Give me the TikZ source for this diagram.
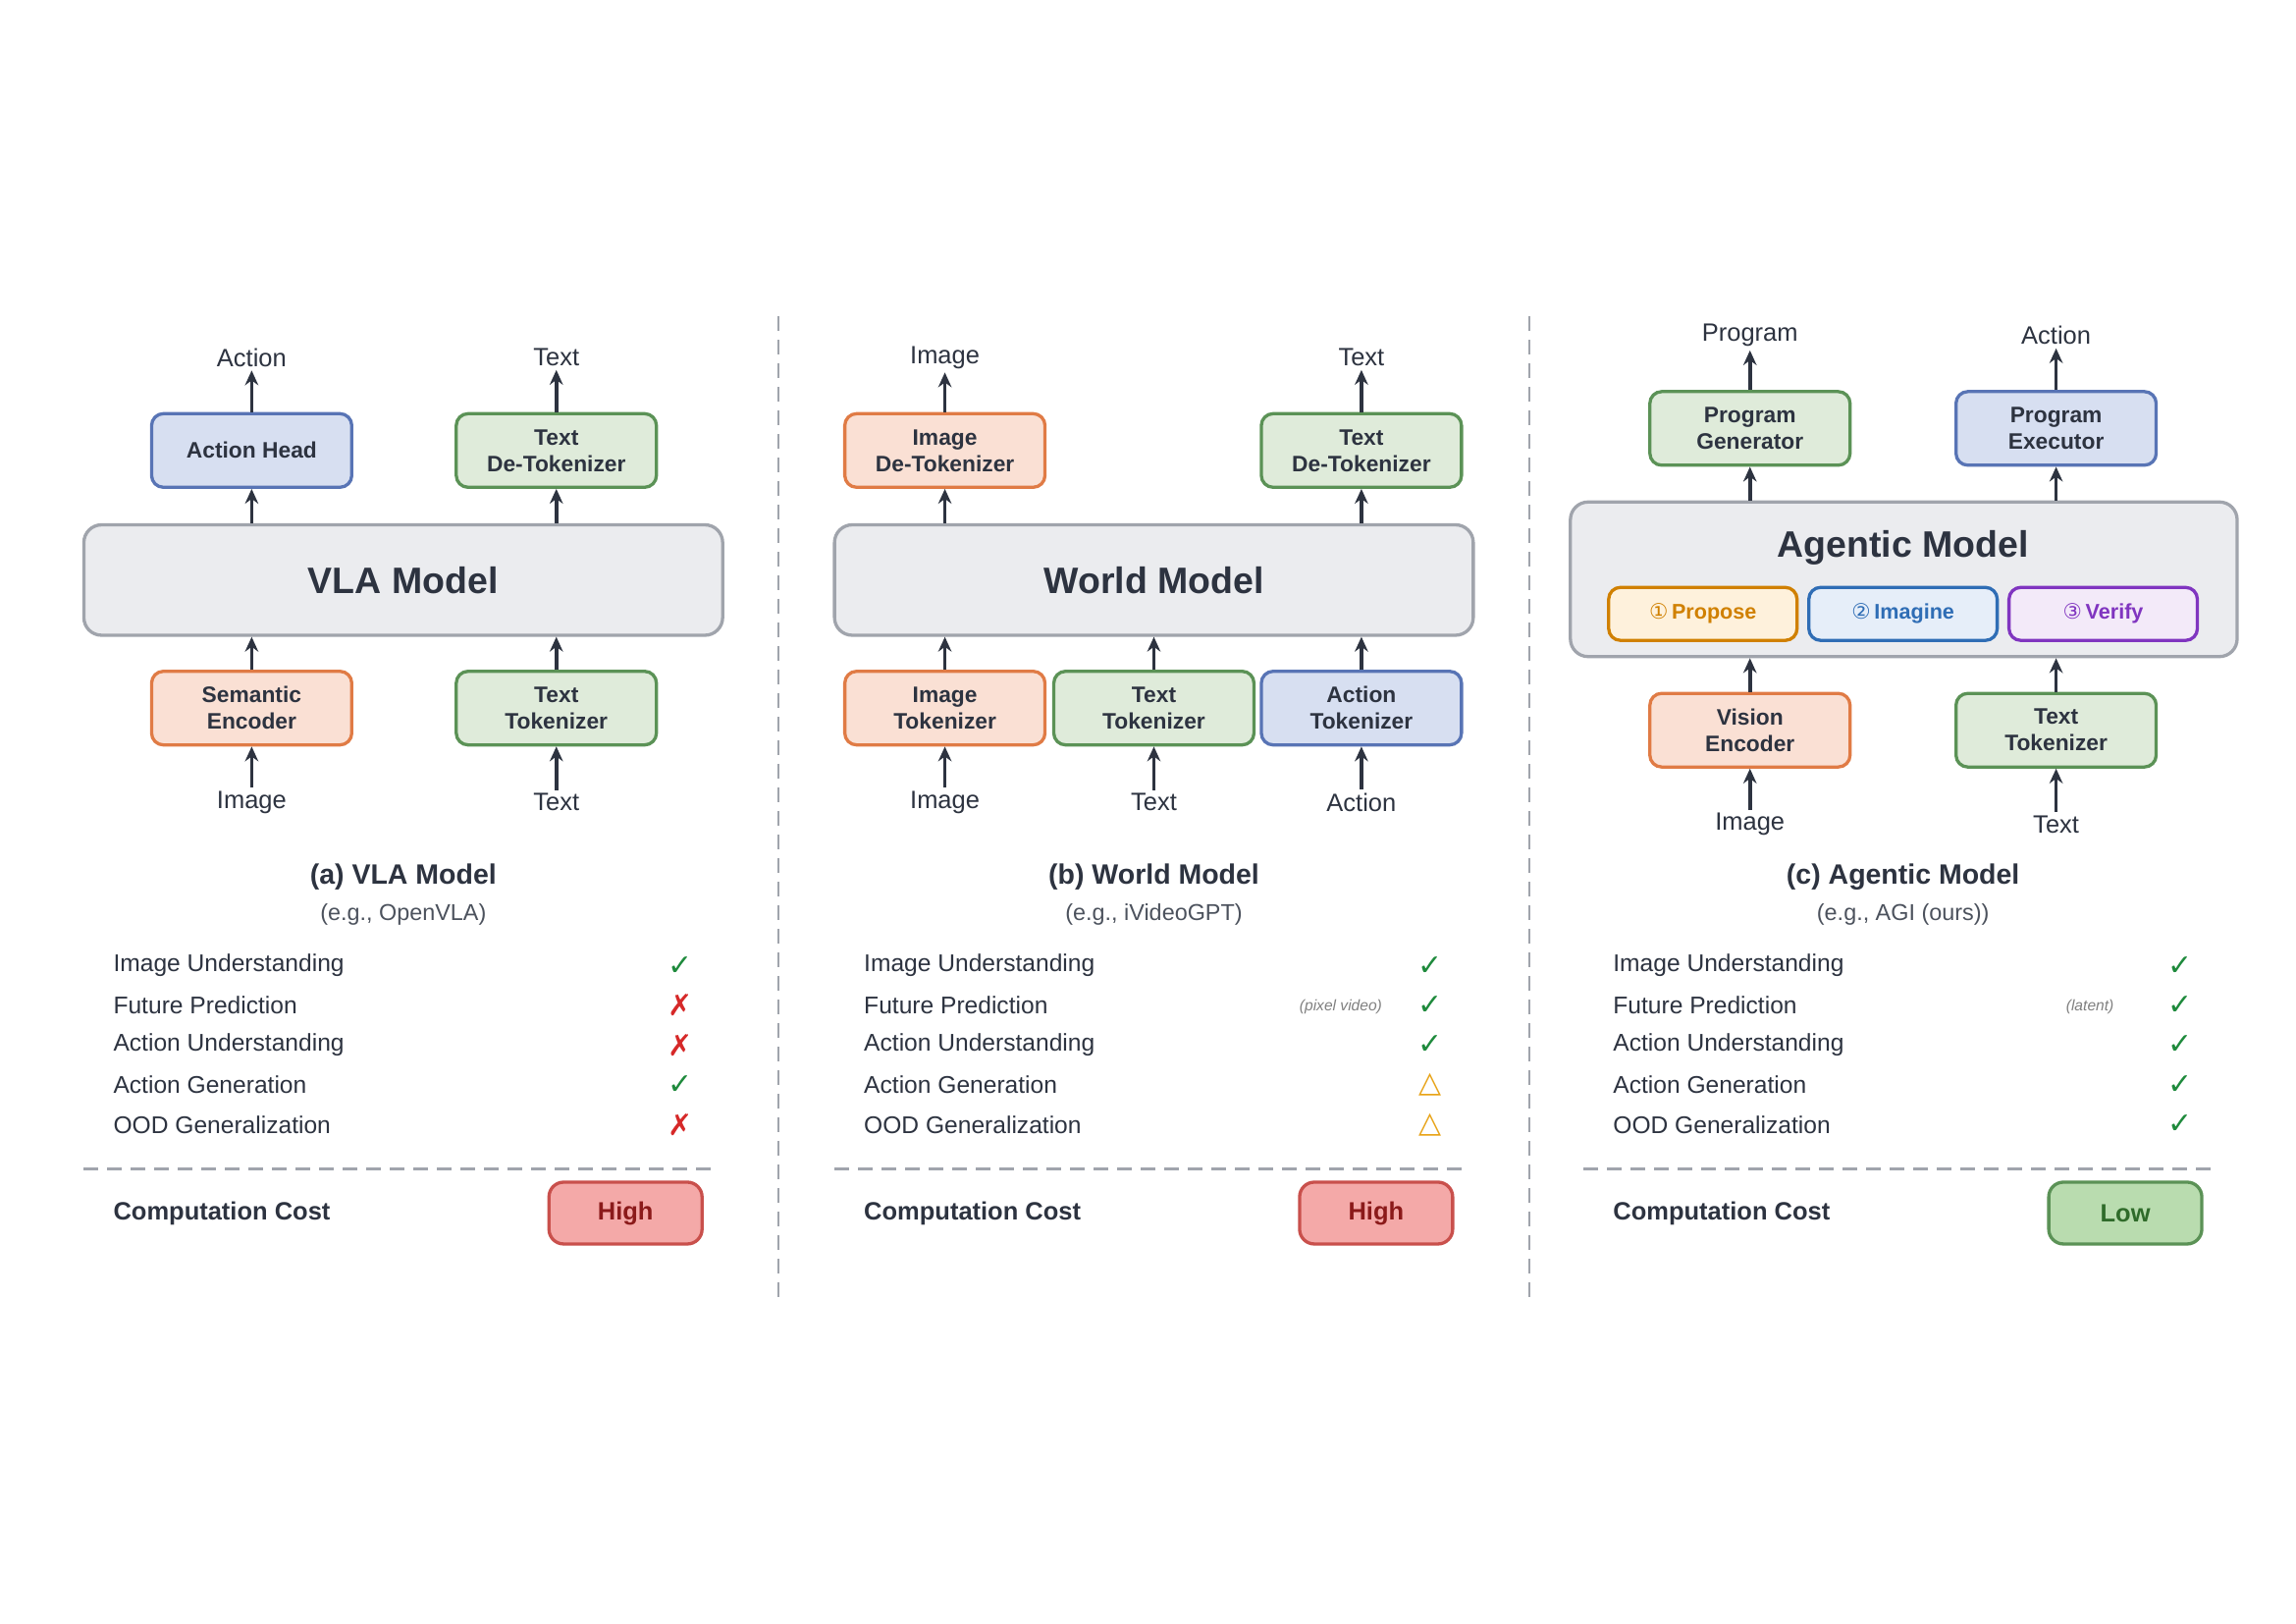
\documentclass[tikz,border=0pt]{standalone}
\usepackage{fontspec}
\setmainfont{Liberation Sans}
\newfontfamily\symfont{DejaVu Sans}
\usetikzlibrary{arrows.meta}

\definecolor{ink}{HTML}{2D3340}
\definecolor{orgfill}{HTML}{FAE0D4}\definecolor{orgline}{HTML}{E07B45}
\definecolor{grnfill}{HTML}{DFEBDA}\definecolor{grnline}{HTML}{5B9256}
\definecolor{blufill}{HTML}{D7DFF1}\definecolor{bluline}{HTML}{5874B5}
\definecolor{gryfill}{HTML}{EBECEF}\definecolor{gryline}{HTML}{A0A4AC}
\definecolor{hifill}{HTML}{F4A9A8}\definecolor{hiline}{HTML}{C9504C}\definecolor{hitext}{HTML}{8B1A1A}
\definecolor{lofill}{HTML}{B9DCAF}\definecolor{loline}{HTML}{5B9256}\definecolor{lotext}{HTML}{2F6B2A}
\definecolor{ckgreen}{HTML}{1E8A3C}\definecolor{xred}{HTML}{D62828}\definecolor{tryellow}{HTML}{E8A317}
\definecolor{prfill}{HTML}{FEF1DC}\definecolor{prline}{HTML}{D08000}
\definecolor{imfill}{HTML}{E6EEF9}\definecolor{imline}{HTML}{2F6DB5}
\definecolor{vefill}{HTML}{F3EAF9}\definecolor{veline}{HTML}{8035C0}

\newcommand{\ckmark}{{\symfont\color{ckgreen}✓}}
\newcommand{\nxmark}{{\symfont\color{xred}✗}}
\newcommand{\trimark}{{\symfont\color{tryellow}△}}

\tikzset{
  blk/.style={draw, rounded corners=4pt, line width=1.1pt, minimum width=68pt, minimum height=25pt,
    align=center, text=ink, font=\fontsize{7.6}{9}\selectfont\bfseries, inner sep=1pt},
  orgblk/.style={blk, fill=orgfill, draw=orgline},
  grnblk/.style={blk, fill=grnfill, draw=grnline},
  blublk/.style={blk, fill=blufill, draw=bluline},
  bigblk/.style={draw=gryline, fill=gryfill, rounded corners=6pt, line width=1.1pt, text=ink},
  substep/.style={draw, rounded corners=4pt, line width=1.1pt, minimum width=64pt, minimum height=18pt,
    font=\fontsize{7.2}{9}\selectfont\bfseries},
  lbl/.style={text=ink, font=\fontsize{8.5}{10}\selectfont, inner sep=1pt},
  arr/.style={-{Stealth[length=5pt,width=4.5pt]}, line width=1.2pt, draw=ink},
  capt/.style={text=ink, font=\fontsize{9.5}{11}\selectfont\bfseries},
  sub/.style={text=ink!85, font=\fontsize{7.8}{9}\selectfont},
  rowtxt/.style={text=ink, font=\fontsize{8.2}{10}\selectfont, anchor=west},
  mk/.style={font=\fontsize{10}{10}\selectfont},
  note/.style={text=gray, font=\fontsize{5.2}{6}\selectfont\itshape},
  costbox/.style={draw, rounded corners=5pt, line width=1.1pt, minimum width=52pt, minimum height=21pt,
    font=\fontsize{8.5}{10}\selectfont\bfseries},
  sep/.style={draw=gryline, dashed, dash pattern=on 5pt off 3pt, line width=0.8pt}
}

\begin{document}
\begin{tikzpicture}[x=0.5pt, y=-0.5pt]
\useasboundingbox[fill=white] (0,0) rectangle (1560,1103);

% panel dividers
\draw[sep] (529,215) -- (529,885);
\draw[sep] (1039,215) -- (1039,885);

% ---- (a) VLA Model
\node[bigblk, minimum width=217pt, minimum height=37.5pt, font=\fontsize{12.5}{14}\selectfont\bfseries] (vla) at (274,394) {VLA Model};
\node[blublk] (acthead) at (171,306) {Action Head};
\node[grnblk] (detokA) at (378,306) {Text\\De-Tokenizer};
\node[orgblk] (semenc) at (171,481) {Semantic\\Encoder};
\node[grnblk] (tokA) at (378,481) {Text\\Tokenizer};
\node[lbl] (outA1) at (171,243) {Action};
\node[lbl] (outA2) at (378,243) {Text};
\node[lbl] (inA1) at (171,545) {Image};
\node[lbl] (inA2) at (378,545) {Text};
\draw[arr] (acthead) -- (outA1);
\draw[arr] (detokA) -- (outA2);
\draw[arr] (vla.north -| acthead) -- (acthead);
\draw[arr] (vla.north -| detokA) -- (detokA);
\draw[arr] (semenc) -- (vla.south -| semenc);
\draw[arr] (tokA) -- (vla.south -| tokA);
\draw[arr] (inA1) -- (semenc);
\draw[arr] (inA2) -- (tokA);

% ---- (b) World Model
\node[bigblk, minimum width=217pt, minimum height=37.5pt, font=\fontsize{12.5}{14}\selectfont\bfseries] (wm) at (784,394) {World Model};
\node[orgblk] (imgdetok) at (642,306) {Image\\De-Tokenizer};
\node[grnblk] (detokB) at (925,306) {Text\\De-Tokenizer};
\node[orgblk] (imgtok) at (642,481) {Image\\Tokenizer};
\node[grnblk] (tokB) at (784,481) {Text\\Tokenizer};
\node[blublk] (acttok) at (925,481) {Action\\Tokenizer};
\node[lbl] (outB1) at (642,243) {Image};
\node[lbl] (outB2) at (925,243) {Text};
\node[lbl] (inB1) at (642,545) {Image};
\node[lbl] (inB2) at (784,545) {Text};
\node[lbl] (inB3) at (925,545) {Action};
\draw[arr] (imgdetok) -- (outB1);
\draw[arr] (detokB) -- (outB2);
\draw[arr] (wm.north -| imgdetok) -- (imgdetok);
\draw[arr] (wm.north -| detokB) -- (detokB);
\draw[arr] (imgtok) -- (wm.south -| imgtok);
\draw[arr] (tokB) -- (wm.south -| tokB);
\draw[arr] (acttok) -- (wm.south -| acttok);
\draw[arr] (inB1) -- (imgtok);
\draw[arr] (inB2) -- (tokB);
\draw[arr] (inB3) -- (acttok);

% ---- (c) Agentic Model
\node[bigblk, minimum width=226.5pt, minimum height=52.5pt] (agm) at (1293.5,393.5) {};
\node[text=ink, font=\fontsize{12.5}{14}\selectfont\bfseries] (agtitle) at (1293,372) {Agentic Model};
\node[substep, fill=prfill, draw=prline, text=prline] (propose) at (1157,417) {{\symfont\mdseries ①}\,Propose};
\node[substep, fill=imfill, draw=imline, text=imline] (imagine) at (1293,417) {{\symfont\mdseries ②}\,Imagine};
\node[substep, fill=vefill, draw=veline, text=veline] (verify) at (1429,417) {{\symfont\mdseries ③}\,Verify};
\node[grnblk] (proggen) at (1189,291) {Program\\Generator};
\node[blublk] (progexe) at (1397,291) {Program\\Executor};
\node[orgblk] (visenc) at (1189,496) {Vision\\Encoder};
\node[grnblk] (tokC) at (1397,496) {Text\\Tokenizer};
\node[lbl] (outC1) at (1189,228) {Program};
\node[lbl] (outC2) at (1397,228) {Action};
\node[lbl] (inC1) at (1189,560) {Image};
\node[lbl] (inC2) at (1397,560) {Text};
\draw[arr] (proggen) -- (outC1);
\draw[arr] (progexe) -- (outC2);
\draw[arr] (agm.north -| proggen) -- (proggen);
\draw[arr] (agm.north -| progexe) -- (progexe);
\draw[arr] (visenc) -- (agm.south -| visenc);
\draw[arr] (tokC) -- (agm.south -| tokC);
\draw[arr] (inC1) -- (visenc);
\draw[arr] (inC2) -- (tokC);

% ---- captions
\node[capt] (capA) at (274,596) {(a) VLA Model};
\node[sub] (egA) at (274,621) {(e.g., OpenVLA)};
\node[capt] (capB) at (784,596) {(b) World Model};
\node[sub] (egB) at (784,621) {(e.g., iVideoGPT)};
\node[capt] (capC) at (1293,596) {(c) Agentic Model};
\node[sub] (egC) at (1293,621) {(e.g., AGI (ours))};

% ---- capability rows
\foreach \dx/\p in {0/A,510/B,1019/C} {
  \foreach \t [count=\r] in {Image Understanding, Future Prediction, Action Understanding, Action Generation, OOD Generalization} {
    \node[rowtxt] (row\p\r) at (70+\dx,629+27*\r) {\t};
  }
}
\foreach \y/\m [count=\r] in {656/\ckmark,683/\nxmark,710/\nxmark,737/\ckmark,764/\nxmark} \node[mk] (mkA\r) at (462,\y) {\m};
\foreach \y/\m [count=\r] in {656/\ckmark,683/\ckmark,710/\ckmark,737/\trimark,764/\trimark} \node[mk] (mkB\r) at (972,\y) {\m};
\foreach \y [count=\r] in {656,683,710,737,764} \node[mk] (mkC\r) at (1481,\y) {\ckmark};
\node[note] (pixnote) at (911,684) {(pixel video)};
\node[note] (latnote) at (1420,684) {(latent)};

% ---- computation cost
\foreach \dx/\p in {0/A,510/B,1019/C} {
  \draw[sep] (57+\dx,794) -- (487+\dx,794);
  \node[rowtxt, font=\fontsize{8.5}{10}\selectfont\bfseries] (cost\p) at (70+\dx,824) {Computation Cost};
}
\node[costbox, fill=hifill, draw=hiline, text=hitext] (costvalA) at (425,824) {High};
\node[costbox, fill=hifill, draw=hiline, text=hitext] (costvalB) at (935,824) {High};
\node[costbox, fill=lofill, draw=loline, text=lotext] (costvalC) at (1444,824) {Low};
\end{tikzpicture}
\end{document}
